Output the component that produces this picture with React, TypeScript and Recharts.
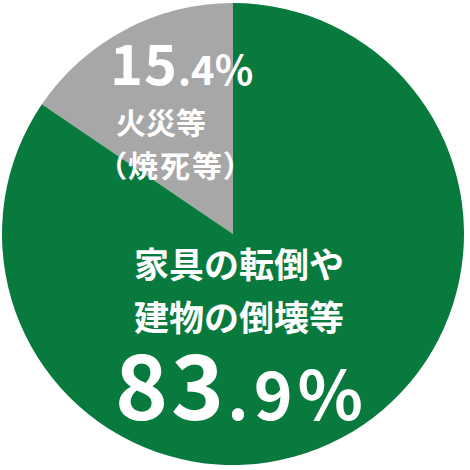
import React from 'react';
import { PieChart, Pie, Cell } from 'recharts';

const categories = ['火災等（焼死等）', '家具の転倒や建物の倒壊等'];
const values = [15.4, 83.9];
const colors = ['#a7a7a7', '#087a3e'];
const intParts = ['15', '83'];
const fracParts = ['.4', '.9'];
const labelLines = [['火災等', '（焼死等）'], ['家具の転倒や', '建物の倒壊等']];

const data = categories.map((name, i) => ({ name, value: values[i] }));

const FONT = '"Noto Sans CJK JP", "Noto Sans", sans-serif';
const palt = { fontFeatureSettings: '"palt"' } as React.CSSProperties;

const renderLabel = (props: any) => {
  const { cx, cy, index } = props;
  if (index === 0) {
    return (
      <g key="l0" fill="#ffffff" fontFamily={FONT} fontWeight={700}>
        <text x={cx - 123} y={cy - 149}>
          <tspan fontSize={56} letterSpacing={1}>{intParts[0]}</tspan>
          <tspan fontSize={40}>{fracParts[0]}</tspan>
          <tspan fontSize={40}>%</tspan>
        </text>
        <text x={cx - 117} y={cy - 100} fontSize={30}>{labelLines[0][0]}</text>
        <text x={cx - 122} y={cy - 57} fontSize={30} letterSpacing={2} style={palt}>{labelLines[0][1]}</text>
      </g>
    );
  }
  return (
    <g key="l1" fill="#ffffff" fontFamily={FONT} fontWeight={700}>
      <text x={cx - 99} y={cy + 44} fontSize={35}>{labelLines[1][0]}</text>
      <text x={cx - 99} y={cy + 97} fontSize={35}>{labelLines[1][1]}</text>
      <text x={cx - 118} y={cy + 186}>
        <tspan fontSize={90} letterSpacing={3}>{intParts[1]}</tspan>
        <tspan fontSize={66} letterSpacing={5}>{fracParts[1]}</tspan>
        <tspan fontSize={68}>%</tspan>
      </text>
    </g>
  );
};

export default function App() {
  return (
    <div style={{ position: 'absolute', left: 0, top: 0, width: 470, height: 470, background: '#ffffff' }}>
      <PieChart width={470} height={470} margin={{ top: 0, right: 0, bottom: 0, left: 0 }}>
        <Pie
          data={data}
          dataKey="value"
          nameKey="name"
          cx={233}
          cy={234}
          outerRadius={231}
          innerRadius={0}
          startAngle={90}
          endAngle={450}
          stroke="none"
          label={renderLabel}
          labelLine={false}
          isAnimationActive={false}
        >
          {data.map((d, i) => (
            <Cell key={d.name} fill={colors[i]} />
          ))}
        </Pie>
      </PieChart>
    </div>
  );
}
